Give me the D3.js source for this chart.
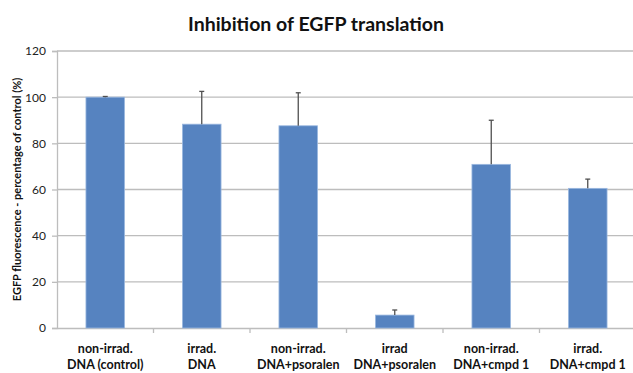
<!DOCTYPE html>
<html><head><meta charset="utf-8">
<script src="https://cdn.jsdelivr.net/npm/d3@7/dist/d3.min.js"></script>
<style>body{margin:0;background:#fff}</style>
</head><body>
<svg id="c" width="633" height="373"></svg>
<script>
const categories = [
  ["non-irrad.", "DNA (control)"],
  ["irrad.", "DNA"],
  ["non-irrad.", "DNA+psoralen"],
  ["irrad", "DNA+psoralen"],
  ["non-irrad.", "DNA+cmpd 1"],
  ["irrad.", "DNA+cmpd 1"]
];
const values = [100, 88.3, 87.6, 5.6, 70.9, 60.5];
const errors = [0.3, 14.2, 14.3, 2.2, 19.1, 4.0];
const yTicks = [0, 20, 40, 60, 80, 100, 120];

const svg = d3.select("#c");
const m = {l: 57, r: -3, t: 51, b: 45};
const W = 633, H = 373;
const font = "Lato, 'Open Sans', sans-serif";
const x = d3.scaleBand().domain(d3.range(categories.length)).range([m.l, W - m.r]).paddingInner(0.6).paddingOuter(0.3);
const xb = d3.scaleBand().domain(d3.range(categories.length)).range([m.l, W - m.r]);
const y = d3.scaleLinear().domain([0, 120]).range([H - m.b, m.t]);

// gridlines
svg.append("g").selectAll("line").data(yTicks.filter(d => d > 0)).join("line")
  .attr("x1", m.l).attr("x2", W).attr("y1", d => y(d)).attr("y2", d => y(d))
  .attr("stroke", "#bdbdbd").attr("stroke-width", 1.3);

// y axis
const ya = svg.append("g").attr("transform", `translate(${m.l},0)`)
  .call(d3.axisLeft(y).tickValues(yTicks).tickSize(5).tickPadding(6));
ya.select(".domain").attr("stroke", "#bdbdbd").attr("stroke-width", 1.3);
ya.selectAll(".tick line").attr("stroke", "#bdbdbd").attr("stroke-width", 1.3);
ya.selectAll("text").attr("font-family", font).attr("font-size", 12).attr("fill", "#222");

// x axis
const xa = svg.append("g").attr("transform", `translate(0,${y(0)})`)
  .call(d3.axisBottom(xb).tickSize(0).tickFormat(""));
xa.select(".domain").attr("stroke", "#bdbdbd").attr("stroke-width", 1.3);
svg.append("g").selectAll("line").data(d3.range(1, categories.length)).join("line")
  .attr("x1", i => xb(i)).attr("x2", i => xb(i)).attr("y1", y(0)).attr("y2", y(0) + 5)
  .attr("stroke", "#bdbdbd").attr("stroke-width", 1.3);

// bars
svg.append("g").selectAll("rect").data(values).join("rect")
  .attr("x", (d, i) => x(i)).attr("width", x.bandwidth())
  .attr("y", d => y(d)).attr("height", d => y(0) - y(d))
  .attr("fill", "#5683c0").attr("stroke", "#9bb8e0").attr("stroke-width", 0.8);

// error bars
const eb = svg.append("g").attr("stroke", "#505050").attr("stroke-width", 1.3);
values.forEach((v, i) => {
  const cx = x(i) + x.bandwidth() / 2;
  eb.append("line").attr("x1", cx).attr("x2", cx).attr("y1", y(v)).attr("y2", y(v + errors[i]));
  eb.append("line").attr("x1", cx - 2.5).attr("x2", cx + 2.5).attr("y1", y(v + errors[i])).attr("y2", y(v + errors[i]));
});

// category labels
const cl = svg.append("g").attr("font-family", font).attr("font-weight", "bold").attr("font-size", 12.5).attr("fill", "#111").attr("text-anchor", "middle");
categories.forEach((c, i) => {
  const cx = xb(i) + xb.bandwidth() / 2;
  c.forEach((t, k) => cl.append("text").attr("x", cx).attr("y", 353 + k * 16).text(t));
});

// title
svg.append("text").attr("x", 316).attr("y", 31).attr("text-anchor", "middle")
  .attr("font-family", font).attr("font-weight", "bold").attr("font-size", 19.5).attr("fill", "#111")
  .text("Inhibition of EGFP translation");

// y label
svg.append("text").attr("transform", `translate(21,${(y(0) + y(120)) / 2}) rotate(-90)`)
  .attr("text-anchor", "middle").attr("font-family", font).attr("font-weight", "bold")
  .attr("font-size", 11).attr("fill", "#111")
  .text("EGFP fluorescence - percentage of control (%)");
</script>
</body></html>
